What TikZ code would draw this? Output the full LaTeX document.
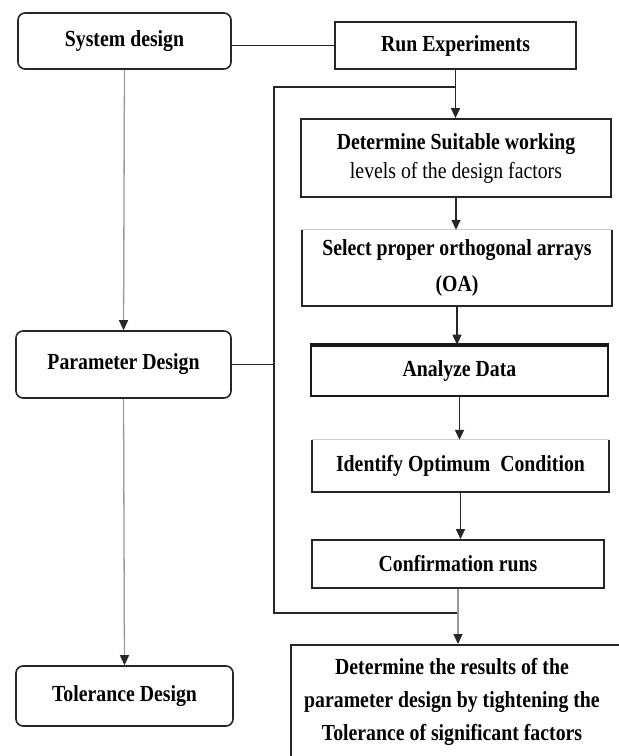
\documentclass[tikz,border=0pt]{standalone}
\usepackage{fontspec}
\setmainfont{Liberation Serif}[FakeStretch=0.86]
\usetikzlibrary{arrows.meta}
\begin{document}
\begin{tikzpicture}[x=1pt,y=-1pt,
  every node/.style={font=\fontsize{23}{28}\selectfont\bfseries, inner sep=0pt, align=center},
  rbox/.style={draw=black!85, line width=1.6pt, rounded corners=7pt},
  sbox/.style={draw=black!85, line width=1.8pt},
  obox/.style={draw=none},
  conn/.style={draw=black!85, line width=1.5pt},
  arr/.style={draw=black!85, line width=1.5pt, -{Triangle[length=10pt,width=9pt]}},
  garr/.style={draw=black!40, line width=1.3pt, -{Triangle[length=10pt,width=9pt,color=black!85]}},
  side/.style={draw=black!85, line width=1.8pt},
  faint/.style={draw=black!20, line width=1pt}]
\useasboundingbox (0,0) rectangle (619,756);
\clip (0,0) rectangle (619,756);
\fill[white] (0,0) rectangle (619,756);

% left column
\node (sys) [rbox, minimum width=213pt, minimum height=56pt] at (124.5,41) {System design};
\node (par) [rbox, minimum width=215pt, minimum height=67pt] at (123.5,364.5) {Parameter Design};
\node (tol) [rbox, minimum width=217pt, minimum height=60pt] at (124.5,696) {Tolerance Design};

% right column
\node (run) [sbox, minimum width=241pt, minimum height=47pt] at (455.5,45.5) {Run Experiments};
\node (det) [sbox, minimum width=310pt, minimum height=78pt] at (456,158)
  {Determine Suitable working\\[1pt]{\mdseries levels of the design factors}};
\node (sel) [obox, minimum width=310pt, minimum height=76pt] at (457,268)
  {Select proper orthogonal arrays\\[8pt](OA)};
\node (ana) [draw=black!90, line width=2.6pt, minimum width=297pt, minimum height=50pt] at (459.5,371) {Analyze Data};
\node (ide) [obox, minimum width=297pt, minimum height=52pt] at (460.5,466) {Identify Optimum\ \ Condition};
\node (con) [sbox, minimum width=292pt, minimum height=48pt] at (458,564) {Confirmation runs};
\node (fin) [sbox, anchor=north, minimum width=331pt, minimum height=150pt] at (456.5,644) {};
\node (fintext) at (452,702) {Determine the results of the\\[5pt]parameter design by tightening the\\[5pt]Tolerance of significant factors};

% partial borders
\draw[faint] (sel.north west) -- (sel.north east);
\draw[side] (sel.north west) -- (sel.south west) -- (sel.south east) -- (sel.north east);
\draw[faint] (ide.north west) -- (ide.north east);
\draw[side] (ide.north west) -- (ide.south west) -- (ide.south east) -- (ide.north east);
\draw[draw=black!90, line width=3.8pt] (ana.north west) -- (ana.north east);

% loop coordinates
\coordinate (lt) at (455.5,87);
\coordinate (ll) at (274,87);
\coordinate (lb) at (274,613);

% connectors
\draw[conn] (run.west) -- (run.west -| sys.east);
\draw[arr] (run.south) -- (run.south |- det.north);
\draw[conn] (lt) -- (ll) -- (lb) -- (lb -| con.south);
\draw[conn] (par.east) -- (par.east -| ll);
\draw[arr] (det.south) -- (det.south |- sel.north);
\draw[arr] (sel.south) -- (sel.south |- ana.north);
\draw[arr] (ana.south) -- (ana.south |- ide.north);
\draw[arr] (ide.south) -- (ide.south |- con.north);
\draw[garr] (con.south) -- (con.south |- fin.north);
\draw[garr] (sys.south) -- (par.north);
\draw[garr] (par.south) -- (tol.north);
\end{tikzpicture}
\end{document}
